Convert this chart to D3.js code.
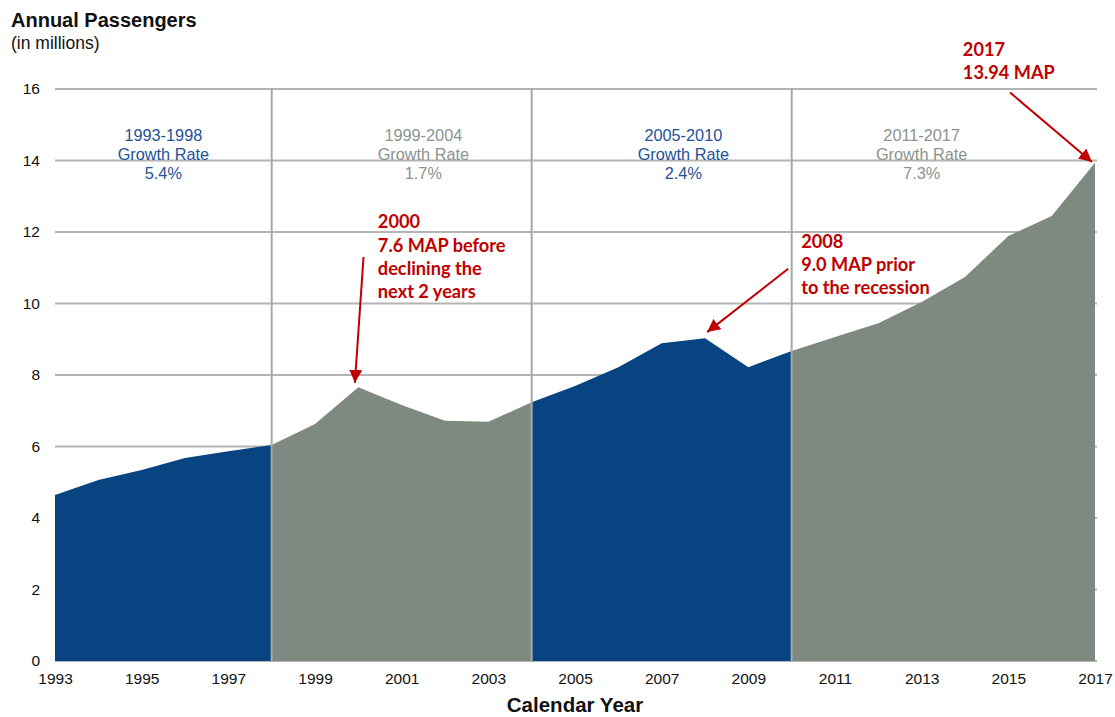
<!DOCTYPE html>
<meta charset="utf-8">
<style>
body { margin: 0; background: #fff; }
svg { font-family: "Liberation Sans", Arial, sans-serif; }
.grid line { stroke: #b4b4b4; stroke-width: 2; }
.tick text { font-size: 15.5px; fill: #111; }
.note { font-family: Lato, "Open Sans", sans-serif; font-weight: bold; font-size: 18.2px; fill: #c00000; }
</style>
<body>
<script src="https://cdn.jsdelivr.net/npm/d3@7"></script>
<script>

var years = [1993,1994,1995,1996,1997,1998,1999,2000,2001,2002,2003,2004,2005,2006,2007,2008,2009,2010,2011,2012,2013,2014,2015,2016,2017];
var passengers = [4.64,5.06,5.34,5.68,5.87,6.04,6.63,7.66,7.16,6.72,6.69,7.24,7.69,8.22,8.89,9.03,8.22,8.67,9.06,9.45,10.04,10.74,11.89,12.45,13.94];

// growth periods (area segments + labels)
var periodStart = [1993,1998,2004,2010];
var periodEnd   = [1998,2004,2010,2017];
var periodName  = ["1993-1998","1999-2004","2005-2010","2011-2017"];
var periodRate  = ["5.4%","1.7%","2.4%","7.3%"];
var periodLabelYear = [1995.5,2001.5,2007.5,2013];

var yTicks = [0,2,4,6,8,10,12,14,16];
var xTicks = [1993,1995,1997,1999,2001,2003,2005,2007,2009,2011,2013,2015,2017];

// callouts: text lines, text anchor (year,value), arrow tail and tip
var noteLines = [["2000","7.6 MAP before","declining the","next 2 years"],
                 ["2008","9.0 MAP prior","to the recession"],
                 ["2017","13.94 MAP"]];
var noteAt   = [[2000.45,12.1],[2010.22,11.55],[2013.95,16.92]];
var noteTail = [[2000.12,11.3],[2009.92,10.97],[2015.04,15.9]];
var noteTip  = [[1999.92,7.78],[2008.05,9.2],[2016.93,13.96]];

var blue = "#084481", grey = "#7e8a80";
var fills = [blue, grey, blue, grey];
var textCols = ["#24519a", "#8a938e", "#24519a", "#8a938e"];

var W = 1115, H = 717;
var svg = d3.select("body").append("svg").attr("width", W).attr("height", H);

var x = d3.scaleLinear().domain([1993, 2017]).range([55, 1095]);
var y = d3.scaleLinear().domain([0, 16]).range([661, 89]);

var data = years.map(function(d, i) { return {year: d, v: passengers[i]}; });

// horizontal grid
svg.append("g").attr("class", "grid")
  .selectAll("line").data(yTicks).enter().append("line")
    .attr("x1", x(1993)).attr("x2", x(2017) + 2)
    .attr("y1", function(d) { return y(d); })
    .attr("y2", function(d) { return y(d); });

// area segments
var area = d3.area()
    .x(function(d) { return x(d.year); })
    .y0(y(0))
    .y1(function(d) { return y(d.v); });

svg.selectAll(".seg").data(periodStart).enter().append("path")
    .attr("class", "seg")
    .attr("fill", function(d, i) { return fills[i]; })
    .attr("d", function(d, i) {
      return area(data.filter(function(p) { return p.year >= d && p.year <= periodEnd[i]; }));
    });

// period dividers
svg.append("g").attr("class", "grid")
  .selectAll("line").data(periodStart.slice(1)).enter().append("line")
    .attr("x1", function(d) { return x(d); }).attr("x2", function(d) { return x(d); })
    .attr("y1", y(16) - 1).attr("y2", y(0) + 1)
    .style("stroke", "#a8a8a8");

// y axis labels
var yAxis = d3.axisLeft(y).tickValues(yTicks).tickSize(0).tickPadding(0);
svg.append("g").attr("transform", "translate(40,0)").call(yAxis)
  .call(function(g) { g.select(".domain").remove(); });

// x axis labels
var xAxis = d3.axisBottom(x).tickValues(xTicks).tickFormat(d3.format("d")).tickSize(0).tickPadding(0);
svg.append("g").attr("transform", "translate(0,673)").call(xAxis)
  .call(function(g) { g.select(".domain").remove(); });
svg.selectAll(".tick text").attr("font-family", null);

// titles
svg.append("text").attr("x", 11).attr("y", 27)
    .style("font-size", "20px").style("font-weight", "bold").style("fill", "#111")
    .text("Annual Passengers");
svg.append("text").attr("x", 11).attr("y", 49)
    .style("font-size", "17.5px").style("fill", "#111")
    .text("(in millions)");
svg.append("text").attr("x", 575).attr("y", 712).attr("text-anchor", "middle")
    .style("font-size", "20.5px").style("font-weight", "bold").style("fill", "#111")
    .text("Calendar Year");

// growth rate labels
periodName.forEach(function(n, i) {
  var t = svg.append("text").attr("text-anchor", "middle")
      .attr("x", x(periodLabelYear[i]))
      .style("font-size", "16.3px").style("fill", textCols[i]);
  [n, "Growth Rate", periodRate[i]].forEach(function(s, k) {
    t.append("tspan").attr("x", x(periodLabelYear[i])).attr("y", 141 + k * 19).text(s);
  });
});

// callouts
svg.append("defs").append("marker")
    .attr("id", "head").attr("viewBox", "0 0 10 10")
    .attr("refX", 10).attr("refY", 5)
    .attr("markerWidth", 6.5).attr("markerHeight", 6.5)
    .attr("markerUnits", "strokeWidth")
    .attr("orient", "auto")
  .append("path").attr("d", "M0,0L10,5L0,10Z").attr("fill", "#c00000");

noteLines.forEach(function(lines, i) {
  var t = svg.append("text").attr("class", "note");
  lines.forEach(function(s, k) {
    t.append("tspan").attr("x", x(noteAt[i][0])).attr("y", y(noteAt[i][1]) + k * 23.2).text(s);
  });
  svg.append("line")
      .attr("x1", x(noteTail[i][0])).attr("y1", y(noteTail[i][1]))
      .attr("x2", x(noteTip[i][0])).attr("y2", y(noteTip[i][1]))
      .attr("stroke", "#c00000").attr("stroke-width", 2)
      .attr("marker-end", "url(#head)");
});

</script>
</body>
